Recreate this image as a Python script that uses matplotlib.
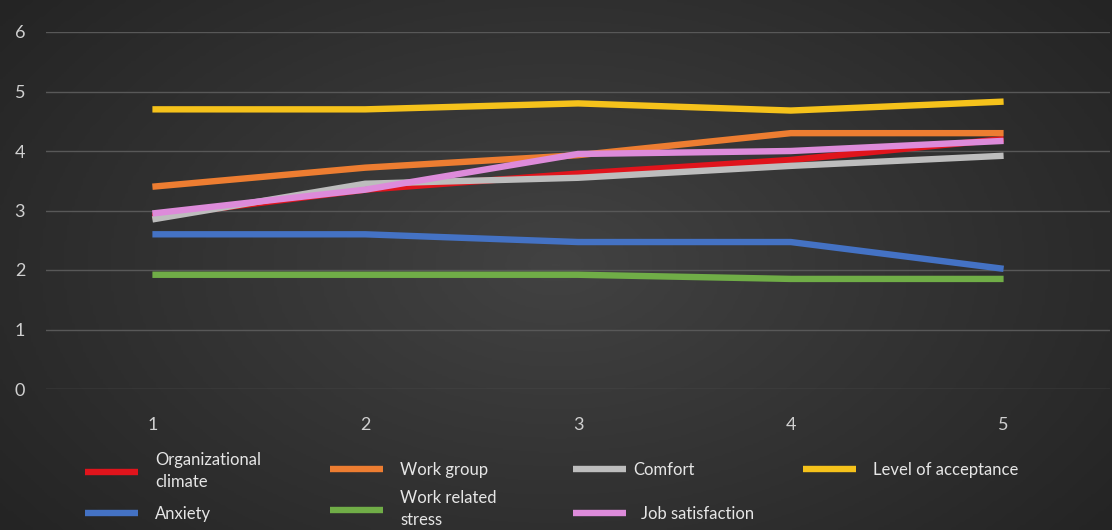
import numpy as np
import matplotlib
matplotlib.use("Agg")
import matplotlib.pyplot as plt

plt.rcParams['font.family'] = ['Lato', 'DejaVu Sans']

points = [1, 2, 3, 4, 5]
organizational_climate = [2.90, 3.35, 3.62, 3.85, 4.20]
work_group = [3.40, 3.72, 3.93, 4.30, 4.30]
comfort = [2.85, 3.45, 3.55, 3.75, 3.92]
level_of_acceptance = [4.70, 4.70, 4.80, 4.68, 4.83]
anxiety = [2.60, 2.60, 2.47, 2.47, 2.02]
work_related_stress = [1.92, 1.92, 1.92, 1.85, 1.85]
job_satisfaction = [2.95, 3.35, 3.95, 4.00, 4.17]

series = [
    ("Organizational\nclimate", organizational_climate, "#E0141C"),
    ("Work group", work_group, "#ED7D31"),
    ("Comfort", comfort, "#BDBDBD"),
    ("Level of acceptance", level_of_acceptance, "#F5C21B"),
    ("Anxiety", anxiety, "#4472C4"),
    ("Work related\nstress", work_related_stress, "#70AD47"),
    ("Job satisfaction", job_satisfaction, "#DD8BDA"),
]

fig = plt.figure(figsize=(11.12, 5.3), dpi=100)

# dark radial background
bg = fig.add_axes([0, 0, 1, 1])
yy, xx = np.mgrid[-1:1:200j, -1:1:400j]
r = np.sqrt((xx * 0.9) ** 2 + (yy * 0.7) ** 2)
bg.imshow(-r, cmap=matplotlib.colors.LinearSegmentedColormap.from_list(
    "bg", ["#242424", "#424242"]), aspect="auto", extent=[0, 1, 0, 1])
bg.set_axis_off()

ax = fig.add_axes([46 / 1112, 141 / 530, 1064 / 1112, 357 / 530])
ax.set_facecolor("none")
for label, vals, col in series:
    ax.plot(points, vals, color=col, lw=4.6, label=label,
            solid_capstyle="butt", solid_joinstyle="round")

ax.set_xlim(0.5, 5.5)
ax.set_ylim(0, 6)
ax.set_yticks(range(0, 7))
ax.set_xticks(points)
ax.grid(axis="y", color="#585858", lw=1)
ax.set_axisbelow(True)
for s in ax.spines.values():
    s.set_visible(False)
ax.tick_params(length=0, colors="#d0d0d0", labelsize=13)
ax.tick_params(axis="y", pad=15)
ax.tick_params(axis="x", pad=20)

# legend: one small legend per entry, placed like the reference (pixels)
handles, labels = ax.get_legend_handles_labels()
spots = [(85, 471, 1.0), (330, 470, 1.0), (573, 470, 0.4), (803, 470, 1.0),
         (85, 514, 1.0), (330, 509, 1.0), (573, 514, 0.9)]
for h, lab, (x0, y0, pad) in zip(handles, labels, spots):
    leg = fig.legend([h], [lab], loc="center left",
                     bbox_to_anchor=(x0 / 1112, 1 - y0 / 530),
                     frameon=False, fontsize=12, labelcolor="#e6e6e6",
                     handlelength=3.2, handletextpad=pad,
                     borderpad=0, borderaxespad=0)
    for t in leg.get_texts():
        t.set_linespacing(1.45)

fig.savefig("out.png", dpi=100)
